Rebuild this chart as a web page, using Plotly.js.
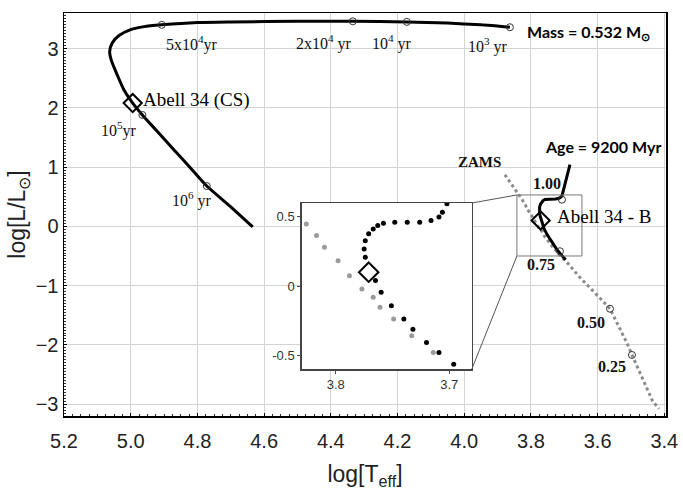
<!DOCTYPE html>
<html><head><meta charset="utf-8">
<script src="https://cdn.plot.ly/plotly-3.0.1.min.js"></script>
<style>html,body{margin:0;padding:0;background:#fff}#c{width:683px;height:491px}</style>
</head><body><div id="c"></div>
<script>
// Post-AGB track, Mass = 0.532 Msun
const pagbLogT = [3.863,3.95,4.05,4.172,4.334,4.50,4.70,4.80,4.907,4.96,5.00,5.035,5.055,5.063,5.058,5.04,5.02,4.994,4.965,4.92,4.87,4.82,4.772,4.70,4.634];
const pagbLogL = [3.36,3.40,3.43,3.45,3.46,3.46,3.45,3.44,3.40,3.37,3.32,3.22,3.10,2.95,2.80,2.55,2.30,2.08,1.88,1.60,1.29,0.98,0.68,0.33,-0.01];
// age markers on the post-AGB track
const ageLabels = ["10<sup>3</sup> yr","10<sup>4</sup> yr","2x10<sup>4</sup> yr","5x10<sup>4</sup>yr","10<sup>5</sup>yr","10<sup>6</sup> yr"];
const ageLogT = [3.863,4.172,4.334,4.907,4.965,4.772];
const ageLogL = [3.36,3.45,3.46,3.40,1.88,0.68];
// RGB isochrone / track, Age = 9200 Myr
const rgbLogT = [3.683,3.693,3.702,3.706,3.709,3.716,3.726,3.737,3.748,3.758,3.763,3.767,3.771,3.774,3.775,3.774,3.771,3.765,3.760,3.751,3.740,3.732,3.720,3.709,3.696];
const rgbLogL = [1.04,0.80,0.594,0.534,0.498,0.473,0.461,0.461,0.461,0.454,0.437,0.413,0.377,0.328,0.268,0.208,0.15,0.039,-0.046,-0.143,-0.239,-0.312,-0.408,-0.481,-0.565];
// ZAMS
const zamsLogT = [3.878,3.850,3.826,3.817,3.810,3.798,3.788,3.777,3.767,3.761,3.749,3.733,3.714,3.690,3.655,3.623,3.595,3.563,3.535,3.512,3.497,3.475,3.452,3.435,3.416];
const zamsLogL = [0.87,0.65,0.449,0.365,0.280,0.183,0.075,-0.022,-0.082,-0.154,-0.239,-0.360,-0.481,-0.62,-0.85,-1.03,-1.20,-1.39,-1.70,-1.97,-2.17,-2.45,-2.76,-2.95,-3.08];
// ZAMS mass markers
const massLabels = ["1.00","0.75","0.50","0.25"];
const massLogT = [3.707,3.713,3.563,3.497];
const massLogL = [0.45,-0.42,-1.39,-2.17];
// Objects
const objNames = ["Abell 34 (CS)","Abell 34 - B"];
const objLogT = [4.994,3.771];
const objLogL = [2.08,0.10];

const XR = [5.2, 3.395], YR = [-3.2, 3.6];
const IX = [3.83, 3.68], IY = [-0.6, 0.6];
const inDomX = [0.395, 0.6775], inDomY = [0.1166, 0.5285];
const box = {x0:3.842, x1:3.647, y0:-0.50, y1:0.53};
const px = x => (XR[0]-x)/(XR[0]-XR[1]);
const py = y => (y-YR[0])/(YR[1]-YR[0]);

const traces = [
 {x:zamsLogT,y:zamsLogL,mode:'lines',line:{color:'#8a8a8a',width:3,dash:'dot'},xaxis:'x',yaxis:'y',hoverinfo:'skip'},
 {x:pagbLogT,y:pagbLogL,mode:'lines',line:{color:'#000',width:3,shape:'spline',smoothing:0.6},xaxis:'x',yaxis:'y'},
 {x:rgbLogT,y:rgbLogL,mode:'lines',line:{color:'#000',width:3},xaxis:'x',yaxis:'y'},
 {x:ageLogT,y:ageLogL,mode:'markers',marker:{symbol:'circle-open',size:7,color:'#333',line:{width:1}},xaxis:'x',yaxis:'y'},
 {x:massLogT,y:massLogL,mode:'markers',marker:{symbol:'circle-open',size:7,color:'#333',line:{width:1}},xaxis:'x',yaxis:'y'},
 {x:objLogT,y:objLogL,mode:'markers',marker:{symbol:'diamond-open',size:14,color:'#000',line:{width:2}},xaxis:'x',yaxis:'y'},
 // inset
 {x:zamsLogT,y:zamsLogL,mode:'markers',marker:{color:'#9a9a9a',size:5},xaxis:'x2',yaxis:'y2'},
 {x:rgbLogT.slice(2),y:rgbLogL.slice(2),mode:'markers',marker:{color:'#000',size:5},xaxis:'x2',yaxis:'y2'},
 {x:objLogT.slice(1),y:objLogL.slice(1),mode:'markers',marker:{symbol:'diamond',size:15,color:'#fff',line:{width:2,color:'#000'}},xaxis:'x2',yaxis:'y2'}
];

const serif = {family:'Liberation Serif, Times New Roman, serif',size:16,color:'#111'};
const ann = [];
const agePos = [[3.930,3.06],[4.218,3.11],[4.419,3.11],[4.815,3.08],[5.034,1.63],[4.817,0.45]];
ageLabels.forEach((t,i)=>ann.push({x:agePos[i][0],y:agePos[i][1],xref:'x',yref:'y',text:t,showarrow:false,font:serif}));
const massPos = [[3.752,0.72],[3.770,-0.65],[3.620,-1.63],[3.557,-2.37]];
massLabels.forEach((t,i)=>ann.push({x:massPos[i][0],y:massPos[i][1],xref:'x',yref:'y',text:t,showarrow:false,font:{...serif,size:16,weight:'bold'}}));
ann.push({x:4.968,y:2.14,xref:'x',yref:'y',text:objNames[0],xanchor:'left',showarrow:false,font:{...serif,size:19,color:'#000'}});
ann.push({x:3.581,y:0.17,xref:'x',yref:'y',text:objNames[1],showarrow:false,font:{...serif,size:19,color:'#000'}});
ann.push({x:3.954,y:1.09,xref:'x',yref:'y',text:'ZAMS',showarrow:false,font:{...serif,size:15,weight:'bold'}});
ann.push({x:3.818,y:3.27,xref:'x',yref:'y',text:'Mass = 0.532 M<sub>⊙</sub>',xanchor:'left',showarrow:false,font:{family:'Lato, sans-serif',size:16,weight:'bold',color:'#000'}});
ann.push({x:3.404,y:1.34,xref:'x',yref:'y',text:'Age = 9200 Myr',xanchor:'right',showarrow:false,font:{family:'Lato, sans-serif',size:16,weight:'bold',color:'#000'}});

const shapes = [
 {type:'rect',xref:'x',yref:'y',x0:box.x0,x1:box.x1,y0:box.y0,y1:box.y1,line:{color:'#777',width:1}},
 {type:'line',xref:'paper',yref:'paper',x0:px(box.x0),y0:py(box.y1),x1:inDomX[1],y1:inDomY[1],line:{color:'#555',width:1}},
 {type:'line',xref:'paper',yref:'paper',x0:px(box.x0),y0:py(box.y0),x1:inDomX[1],y1:inDomY[0],line:{color:'#555',width:1}}
];

const tickF = {family:'Liberation Sans, Arial, sans-serif',size:20,color:'#222'};
const titleF = {family:'Liberation Sans, Arial, sans-serif',size:23,color:'#222'};
const layout = {
 width:683,height:491,margin:{l:64,r:17,t:13,b:75},
 paper_bgcolor:'#fff',plot_bgcolor:'#fff',showlegend:false,
 xaxis:{range:XR,dtick:0.2,tick0:3.4,tickformat:'.1f',showgrid:true,gridcolor:'#d4d4d4',gridwidth:1,zeroline:false,
   showline:true,linecolor:'#000',linewidth:1.5,mirror:true,ticks:'inside',ticklen:3,tickcolor:'#000',ticklabelstandoff:6,
   minor:{ticks:'inside',dtick:0.025,ticklen:2,tickcolor:'#333',showgrid:false},
   tickfont:tickF,title:{text:'log[T<sub>eff</sub>]',font:titleF,standoff:15},domain:[0,1]},
 yaxis:{range:YR,dtick:1,tick0:0,showgrid:true,gridcolor:'#d4d4d4',gridwidth:1,zeroline:false,
   showline:true,linecolor:'#000',linewidth:1.5,mirror:true,ticks:'inside',ticklen:3,tickcolor:'#000',
   minor:{ticks:'inside',dtick:0.05,ticklen:2,tickcolor:'#333',showgrid:false},
   tickfont:tickF,title:{text:'log[L/L<sub>⊙</sub>]',font:titleF,standoff:3},domain:[0,1]},
 xaxis2:{range:IX,domain:inDomX,anchor:'y2',tickvals:[3.8,3.7],ticktext:['3.8','3.7'],showgrid:false,zeroline:false,
   showline:true,linecolor:'#444',linewidth:1.5,mirror:true,ticks:'outside',ticklen:3,tickfont:{family:'Liberation Sans Narrow, Liberation Sans, sans-serif',size:13,color:'#333'}},
 yaxis2:{range:IY,domain:inDomY,anchor:'x2',tickvals:[-0.5,0,0.5],ticktext:['-0.5','0','0.5'],showgrid:false,zeroline:false,
   showline:true,linecolor:'#444',linewidth:1.5,mirror:true,ticks:'outside',ticklen:3,tickfont:{family:'Liberation Sans Narrow, Liberation Sans, sans-serif',size:13,color:'#333'}},
 annotations:ann,shapes:shapes
};
Plotly.newPlot('c',traces,layout,{displayModeBar:false,staticPlot:true});
</script></body></html>
